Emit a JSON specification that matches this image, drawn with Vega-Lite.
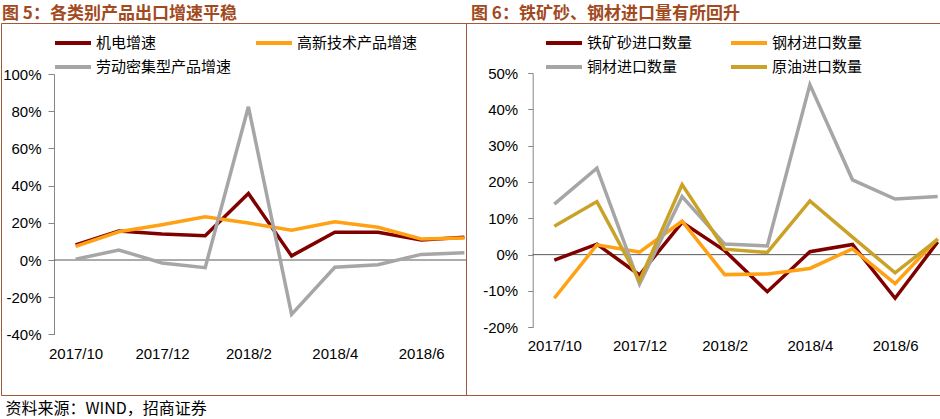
{
  "$schema": "https://vega.github.io/schema/vega-lite/v6.json",
  "background": "white",
  "padding": {"top": 4, "left": 0, "right": 0, "bottom": 2},
  "spacing": 0,
  "bounds": "flush",
  "config": {
    "view": {"stroke": "#A0583A", "strokeWidth": 1},
    "font": "Liberation Sans",
    "legend": {"padding": 0}
  },
  "title": {
    "text": "资料来源：WIND，招商证券",
    "orient": "bottom",
    "anchor": "start",
    "font": "Noto Sans CJK SC",
    "fontSize": 16,
    "fontWeight": "normal",
    "color": "#000000",
    "offset": 5,
    "dx": 5
  },
  "datasets": {
    "exports": [
      {"month": "2017/10", "series": "机电增速", "value": 8.1},
      {"month": "2017/11", "series": "机电增速", "value": 15.6},
      {"month": "2017/12", "series": "机电增速", "value": 14.0},
      {"month": "2018/1", "series": "机电增速", "value": 13.1},
      {"month": "2018/2", "series": "机电增速", "value": 35.8},
      {"month": "2018/3", "series": "机电增速", "value": 2.2},
      {"month": "2018/4", "series": "机电增速", "value": 14.9},
      {"month": "2018/5", "series": "机电增速", "value": 14.9},
      {"month": "2018/6", "series": "机电增速", "value": 10.8},
      {"month": "2018/7", "series": "机电增速", "value": 12.2},
      {"month": "2017/10", "series": "高新技术产品增速", "value": 7.3},
      {"month": "2017/11", "series": "高新技术产品增速", "value": 15.2},
      {"month": "2017/12", "series": "高新技术产品增速", "value": 19.0},
      {"month": "2018/1", "series": "高新技术产品增速", "value": 23.3},
      {"month": "2018/2", "series": "高新技术产品增速", "value": 19.9},
      {"month": "2018/3", "series": "高新技术产品增速", "value": 16.0},
      {"month": "2018/4", "series": "高新技术产品增速", "value": 20.6},
      {"month": "2018/5", "series": "高新技术产品增速", "value": 17.6},
      {"month": "2018/6", "series": "高新技术产品增速", "value": 11.3},
      {"month": "2018/7", "series": "高新技术产品增速", "value": 11.8},
      {"month": "2017/10", "series": "劳动密集型产品增速", "value": 0.4},
      {"month": "2017/11", "series": "劳动密集型产品增速", "value": 5.4},
      {"month": "2017/12", "series": "劳动密集型产品增速", "value": -1.6},
      {"month": "2018/1", "series": "劳动密集型产品增速", "value": -4.1},
      {"month": "2018/2", "series": "劳动密集型产品增速", "value": 82.4},
      {"month": "2018/3", "series": "劳动密集型产品增速", "value": -29.2},
      {"month": "2018/4", "series": "劳动密集型产品增速", "value": -3.9},
      {"month": "2018/5", "series": "劳动密集型产品增速", "value": -2.5},
      {"month": "2018/6", "series": "劳动密集型产品增速", "value": 3.0},
      {"month": "2018/7", "series": "劳动密集型产品增速", "value": 3.9}
    ],
    "imports": [
      {"month": "2017/10", "series": "铁矿砂进口数量", "value": -1.5},
      {"month": "2017/11", "series": "铁矿砂进口数量", "value": 2.9},
      {"month": "2017/12", "series": "铁矿砂进口数量", "value": -5.6},
      {"month": "2018/1", "series": "铁矿砂进口数量", "value": 8.9},
      {"month": "2018/2", "series": "铁矿砂进口数量", "value": 1.1},
      {"month": "2018/3", "series": "铁矿砂进口数量", "value": -10.2},
      {"month": "2018/4", "series": "铁矿砂进口数量", "value": 0.8},
      {"month": "2018/5", "series": "铁矿砂进口数量", "value": 2.8},
      {"month": "2018/6", "series": "铁矿砂进口数量", "value": -12.0},
      {"month": "2018/7", "series": "铁矿砂进口数量", "value": 3.5},
      {"month": "2017/10", "series": "钢材进口数量", "value": -12.0},
      {"month": "2017/11", "series": "钢材进口数量", "value": 2.7},
      {"month": "2017/12", "series": "钢材进口数量", "value": 0.7},
      {"month": "2018/1", "series": "钢材进口数量", "value": 9.2},
      {"month": "2018/2", "series": "钢材进口数量", "value": -5.5},
      {"month": "2018/3", "series": "钢材进口数量", "value": -5.3},
      {"month": "2018/4", "series": "钢材进口数量", "value": -3.8},
      {"month": "2018/5", "series": "钢材进口数量", "value": 1.6},
      {"month": "2018/6", "series": "钢材进口数量", "value": -8.0},
      {"month": "2018/7", "series": "钢材进口数量", "value": 4.4},
      {"month": "2017/10", "series": "铜材进口数量", "value": 13.9},
      {"month": "2017/11", "series": "铜材进口数量", "value": 23.8},
      {"month": "2017/12", "series": "铜材进口数量", "value": -8.1},
      {"month": "2018/1", "series": "铜材进口数量", "value": 16.0},
      {"month": "2018/2", "series": "铜材进口数量", "value": 2.9},
      {"month": "2018/3", "series": "铜材进口数量", "value": 2.4},
      {"month": "2018/4", "series": "铜材进口数量", "value": 46.8},
      {"month": "2018/5", "series": "铜材进口数量", "value": 20.6},
      {"month": "2018/6", "series": "铜材进口数量", "value": 15.3},
      {"month": "2018/7", "series": "铜材进口数量", "value": 16.0},
      {"month": "2017/10", "series": "原油进口数量", "value": 7.8},
      {"month": "2017/11", "series": "原油进口数量", "value": 14.6},
      {"month": "2017/12", "series": "原油进口数量", "value": -7.2},
      {"month": "2018/1", "series": "原油进口数量", "value": 19.3},
      {"month": "2018/2", "series": "原油进口数量", "value": 1.5},
      {"month": "2018/3", "series": "原油进口数量", "value": 0.6},
      {"month": "2018/4", "series": "原油进口数量", "value": 14.8},
      {"month": "2018/5", "series": "原油进口数量", "value": 4.8},
      {"month": "2018/6", "series": "原油进口数量", "value": -5.0},
      {"month": "2018/7", "series": "原油进口数量", "value": 4.2}
    ]
  },
  "hconcat": [
    {
      "width": 465,
      "height": 372,
      "title": {
        "text": "图 5：各类别产品出口增速平稳",
        "anchor": "start",
        "font": "Noto Sans CJK SC",
        "fontSize": 17,
        "fontWeight": "bold",
        "color": "#A24A1E",
        "offset": 0,
        "dx": 1
      },
      "layer": [
        {
          "data": {"values": [{"start": "2017/10", "end": "2018/7", "zero": 0}]},
          "mark": {"type": "rule", "color": "#595959", "strokeWidth": 1, "xOffset": -21.6, "x2Offset": 1.6},
          "encoding": {
            "x": {"field": "start", "type": "ordinal"},
            "x2": {"field": "end"},
            "y": {"field": "zero", "type": "quantitative"}
          }
        },
        {
          "data": {"name": "exports"},
          "mark": {"type": "line", "strokeWidth": 3.5, "strokeJoin": "miter"},
          "encoding": {
            "x": {
              "field": "month",
              "type": "ordinal",
              "scale": {
                "type": "point",
                "padding": 0,
                "domain": ["2017/10", "2017/11", "2017/12", "2018/1", "2018/2", "2018/3", "2018/4", "2018/5", "2018/6", "2018/7"],
                "range": [74.6, 463.4]
              },
              "axis": {
                "title": null,
                "values": ["2017/10", "2017/12", "2018/2", "2018/4", "2018/6"],
                "labelAngle": 0,
                "labelAlign": "center",
                "labelBaseline": "top",
                "domain": false,
                "ticks": false,
                "tickSize": 0,
                "labelPadding": 12,
                "labelFontSize": 15,
                "labelColor": "#000000",
                "offset": -60.6
              }
            },
            "y": {
              "field": "value",
              "type": "quantitative",
              "scale": {"domain": [-40, 100], "range": [311.4, 51], "nice": false, "zero": false},
              "axis": {
                "title": null,
                "values": [-40, -20, 0, 20, 40, 60, 80, 100],
                "labelExpr": "datum.value + '%'",
                "grid": false,
                "tickSize": 6,
                "tickColor": "#868686",
                "domainColor": "#868686",
                "labelPadding": 7,
                "labelFontSize": 15,
                "labelColor": "#000000",
                "offset": -53
              }
            },
            "color": {
              "field": "series",
              "type": "nominal",
              "scale": {
                "domain": ["机电增速", "高新技术产品增速", "劳动密集型产品增速"],
                "range": ["#800000", "#FFA115", "#A6A6A6"]
              },
              "legend": {
                "title": null,
                "orient": "none",
                "direction": "horizontal",
                "legendX": 52,
                "legendY": 12,
                "columns": 2,
                "columnPadding": 22,
                "rowPadding": 8,
                "clipHeight": 16,
                "symbolType": "stroke",
                "symbolSize": 1296,
                "symbolStrokeWidth": 4,
                "labelFont": "Noto Sans CJK SC",
                "labelFontSize": 15,
                "labelColor": "#000000",
                "labelOffset": 3,
                "labelLimit": 300
              }
            }
          }
        }
      ]
    },
    {
      "width": 475,
      "height": 372,
      "title": {
        "text": "图 6：铁矿砂、钢材进口量有所回升",
        "anchor": "start",
        "font": "Noto Sans CJK SC",
        "fontSize": 17,
        "fontWeight": "bold",
        "color": "#A24A1E",
        "offset": 0,
        "dx": 5
      },
      "layer": [
        {
          "data": {"values": [{"start": "2017/10", "end": "2018/7", "zero": 0}]},
          "mark": {"type": "rule", "color": "#595959", "strokeWidth": 1, "xOffset": -21.6, "x2Offset": 4},
          "encoding": {
            "x": {"field": "start", "type": "ordinal"},
            "x2": {"field": "end"},
            "y": {"field": "zero", "type": "quantitative"}
          }
        },
        {
          "data": {"name": "imports"},
          "mark": {"type": "line", "strokeWidth": 3.5, "strokeJoin": "miter"},
          "encoding": {
            "x": {
              "field": "month",
              "type": "ordinal",
              "scale": {
                "type": "point",
                "padding": 0,
                "domain": ["2017/10", "2017/11", "2017/12", "2018/1", "2018/2", "2018/3", "2018/4", "2018/5", "2018/6", "2018/7"],
                "range": [88.3, 471.7]
              },
              "axis": {
                "title": null,
                "values": ["2017/10", "2017/12", "2018/2", "2018/4", "2018/6"],
                "labelAngle": 0,
                "labelAlign": "center",
                "labelBaseline": "top",
                "domain": false,
                "ticks": false,
                "tickSize": 0,
                "labelPadding": 11,
                "labelFontSize": 15,
                "labelColor": "#000000",
                "offset": -67.7
              }
            },
            "y": {
              "field": "value",
              "type": "quantitative",
              "scale": {"domain": [-20, 50], "range": [304.3, 50], "nice": false, "zero": false},
              "axis": {
                "title": null,
                "values": [-20, -10, 0, 10, 20, 30, 40, 50],
                "labelExpr": "datum.value + '%'",
                "grid": false,
                "tickSize": 5,
                "tickColor": "#868686",
                "domainColor": "#868686",
                "labelPadding": 10,
                "labelFontSize": 15,
                "labelColor": "#000000",
                "offset": -66.7
              }
            },
            "color": {
              "field": "series",
              "type": "nominal",
              "scale": {
                "domain": ["铁矿砂进口数量", "钢材进口数量", "铜材进口数量", "原油进口数量"],
                "range": ["#800000", "#FFA115", "#A6A6A6", "#C9A227"]
              },
              "legend": {
                "title": null,
                "orient": "none",
                "direction": "horizontal",
                "legendX": 78,
                "legendY": 12,
                "columns": 2,
                "columnPadding": 36,
                "rowPadding": 8,
                "clipHeight": 16,
                "symbolType": "stroke",
                "symbolSize": 1296,
                "symbolStrokeWidth": 4,
                "labelFont": "Noto Sans CJK SC",
                "labelFontSize": 15,
                "labelColor": "#000000",
                "labelOffset": 3,
                "labelLimit": 300
              }
            }
          }
        }
      ]
    }
  ],
  "resolve": {"scale": {"color": "independent", "x": "independent", "y": "independent"}}
}
